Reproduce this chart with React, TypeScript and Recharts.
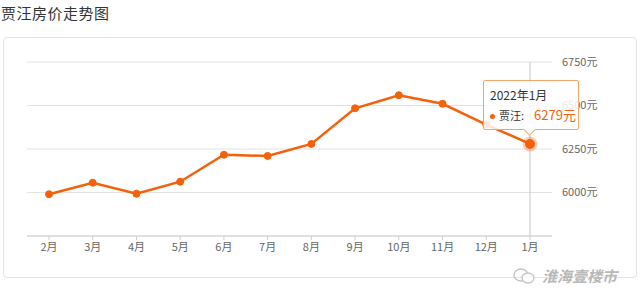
import React from 'react';
import {
  LineChart,
  Line,
  XAxis,
  YAxis,
  CartesianGrid,
  Tooltip,
} from 'recharts';

const months = ['2月', '3月', '4月', '5月', '6月', '7月', '8月', '9月', '10月', '11月', '12月', '1月'];
const periods = [
  '2021年2月', '2021年3月', '2021年4月', '2021年5月', '2021年6月', '2021年7月',
  '2021年8月', '2021年9月', '2021年10月', '2021年11月', '2021年12月', '2022年1月',
];
const prices = [5990, 6056, 5993, 6062, 6217, 6210, 6279, 6484, 6559, 6510, 6390, 6279];
const yTicks = [6000, 6250, 6500, 6750];
const seriesName = '贾汪';

const ORANGE = '#f5600a';
const FONT = '"Noto Sans CJK SC", "Noto Sans", sans-serif';

const data = months.map((m, i) => ({ month: m, period: periods[i], price: prices[i] }));

function PriceTip({ active, payload }: any) {
  if (!active || !payload || !payload.length) return null;
  const p = payload[0].payload;
  return (
    <div style={{ position: 'relative', fontFamily: FONT }}>
      <div
        style={{
          width: 96,
          height: 50,
          background: 'rgba(255,255,255,0.85)',
          border: '1px solid #f3a66a',
          borderRadius: 2,
          boxSizing: 'border-box',
          padding: '6px 0 0 6px',
        }}
      >
        <div style={{ fontSize: 12, color: '#333', lineHeight: '16px' }}>{p.period}</div>
        <div style={{ fontSize: 12, color: '#333', lineHeight: '18px', marginTop: 3, whiteSpace: 'nowrap' }}>
          <span style={{ display: 'inline-block', width: 5, height: 5, borderRadius: 3, background: ORANGE, marginRight: 4, verticalAlign: 'middle' }} />
          <span style={{ fontSize: 11 }}>{seriesName}:</span>
          <span style={{ color: ORANGE, fontSize: 13, marginLeft: 10 }}>{p.price}元</span>
        </div>
      </div>
      <div
        style={{
          position: 'absolute',
          left: 42,
          top: 45,
          width: 8,
          height: 8,
          background: '#fff',
          borderRight: '1px solid #f3a66a',
          borderBottom: '1px solid #f3a66a',
          transform: 'rotate(45deg)',
        }}
      />
    </div>
  );
}

export default function App() {
  return (
    <div style={{ position: 'absolute', left: 0, top: 0, width: 640, height: 304, background: '#fff', fontFamily: FONT }}>
      <div style={{ position: 'absolute', left: 1, top: 2, fontSize: 15, color: '#333', letterSpacing: 0.5 }}>
        贾汪房价走势图
      </div>
      <div
        style={{
          position: 'absolute',
          left: 3,
          top: 37,
          width: 634,
          height: 241,
          border: '1px solid #e3e3e3',
          borderRadius: 4,
          boxSizing: 'border-box',
        }}
      />
      <div style={{ position: 'absolute', left: 0, top: 0 }}>
        <LineChart
          width={640}
          height={304}
          data={data}
          margin={{ top: 62, right: 28, bottom: 38, left: 27 }}
        >
          <CartesianGrid horizontal vertical={false} stroke="#e2e2e2" />
          <XAxis
            dataKey="month"
            padding={{ left: 22, right: 22 }}
            axisLine={{ stroke: '#cfcfcf' }}
            tickLine={{ stroke: '#cfcfcf' }}
            tickSize={4}
            tickMargin={3}
            height={30}
            interval={0}
            tick={{ fill: '#666', fontSize: 11, fontFamily: FONT }}
          />
          <YAxis
            orientation="right"
            domain={[5750, 6750]}
            ticks={yTicks}
            axisLine={false}
            tickLine={false}
            tickSize={0}
            tickMargin={10}
            width={60}
            tickFormatter={(v: number) => `${v}元`}
            tick={{ fill: '#666', fontSize: 11, fontFamily: FONT, textAnchor: 'start' }}
          />
          <Tooltip
            active
            defaultIndex={11}
            content={<PriceTip />}
            position={{ x: 483, y: 80 }}
            cursor={{ stroke: '#c8c8c8', strokeWidth: 1 }}
            isAnimationActive={false}
          />
          <Line
            type="linear"
            dataKey="price"
            name={seriesName}
            stroke={ORANGE}
            strokeWidth={2.5}
            dot={{ r: 3.5, fill: ORANGE, stroke: ORANGE, strokeWidth: 1 }}
            activeDot={{ r: 5, fill: ORANGE, stroke: 'rgba(245,96,10,0.3)', strokeWidth: 5 }}
            isAnimationActive={false}
          />
        </LineChart>
      </div>
      <div style={{ position: 'absolute', left: 512, top: 265, display: 'flex', alignItems: 'center' }}>
        <svg width={24} height={18}>
          <ellipse cx={9} cy={8} rx={7} ry={6} fill="none" stroke="#c4c4c4" strokeWidth={1.3} />
          <ellipse cx={16} cy={11} rx={6} ry={5} fill="#fff" stroke="#c4c4c4" strokeWidth={1.3} />
        </svg>
        <span
          style={{
            fontSize: 15,
            color: '#b8b8b8',
            fontWeight: 'bold',
            fontStyle: 'italic',
            marginLeft: 6,
            textShadow: '0 0 2px #fff',
          }}
        >
          淮海壹楼市
        </span>
      </div>
    </div>
  );
}
